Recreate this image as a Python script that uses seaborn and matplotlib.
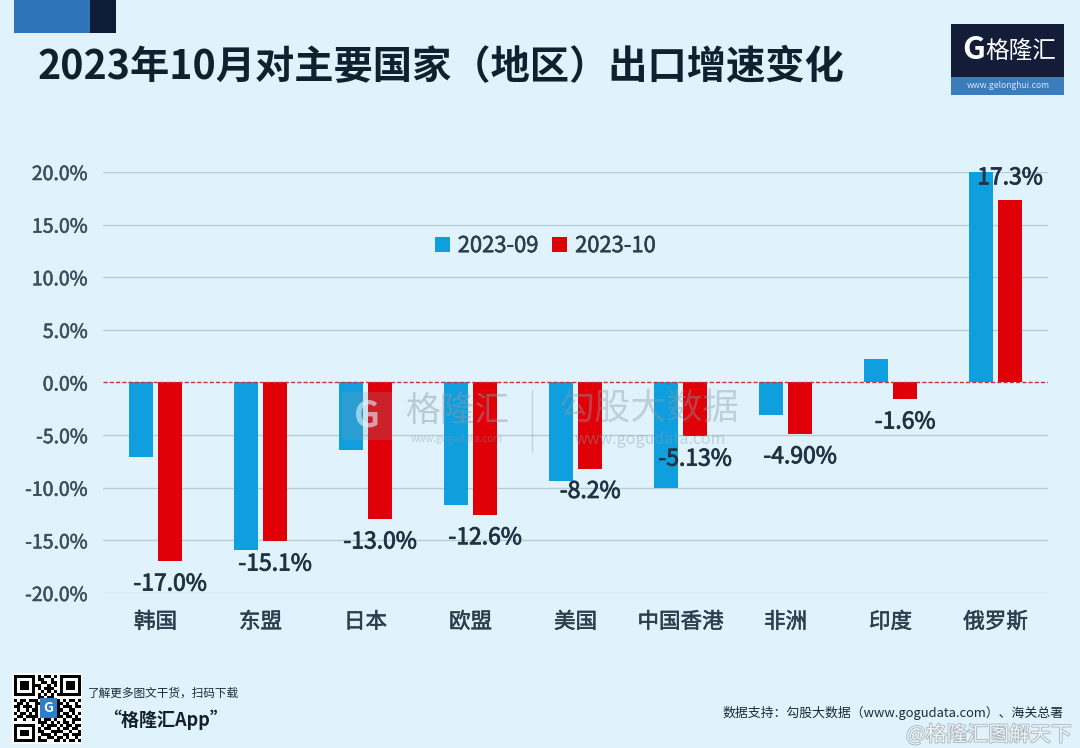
# 2023年10月 主要国家（地区）出口增速
import matplotlib
matplotlib.use('Agg')
import matplotlib.pyplot as plt
from matplotlib.lines import Line2D
from matplotlib.patches import Rectangle
import matplotlib.patheffects as pe
import numpy as np
import pandas as pd
import seaborn as sns

regions = ['韩国', '东盟', '日本', '欧盟', '美国', '中国香港', '非洲', '印度', '俄罗斯']
growth_09 = [-7.1, -15.9, -6.4, -11.6, -9.4, -10.0, -3.1, 2.2, 20.0]
growth_10 = [-17.0, -15.1, -13.0, -12.6, -8.2, -5.13, -4.90, -1.6, 17.3]
labels_10 = ['-17.0%', '-15.1%', '-13.0%', '-12.6%', '-8.2%', '-5.13%', '-4.90%', '-1.6%', '17.3%']
y_ticks = [-20, -15, -10, -5, 0, 5, 10, 15, 20]
qr_rows = [
    '1111111010110101111111',
    '1000001011001001000001',
    '1011101001101101011101',
    '1011101110010101011101',
    '1011101010111001011101',
    '1000001001010101000001',
    '1111111010101011111111',
    '0000000011011000000000',
    '1011011100110110101101',
    '0110100111000011010010',
    '1101110100000010111011',
    '0100101100000011001100',
    '1011010100000010110101',
    '0110111101000111011010',
    '1001001010110100100111',
    '0000000011101010110100',
    '1111111001011101011011',
    '1000001010110010110110',
    '1011101011001111001001',
    '1011101001110100110111',
    '1000001010011011010010',
    '1111111011100110101101',
]

BG = '#e0f3fc'
W, H = 1080, 748

sns.set_theme(style='white')
plt.rcParams['font.family'] = ['Noto Sans CJK SC', 'DejaVu Sans']
plt.rcParams['axes.unicode_minus'] = False

fig = plt.figure(figsize=(W / 100, H / 100), dpi=100, facecolor=BG)


def fx(x):
    return x / W


def fy(y):
    return 1 - y / H


def box(x0, y0, x1, y1, color, alpha=1, zorder=1):
    fig.add_artist(Rectangle((fx(x0), fy(y1)), (x1 - x0) / W, (y1 - y0) / H,
                             transform=fig.transFigure, color=color, lw=0, alpha=alpha, zorder=zorder))


def thicken(text, width=0.5):
    # フォントのMediumが効かないので縁取りで太くする
    text.set_path_effects([pe.withStroke(linewidth=width, foreground=text.get_color())])


# 左上の飾り・ロゴ
box(14, 0, 90, 33, '#2f74b8')
box(90, 0, 116, 33, '#0f1c38')
box(951, 24, 1064, 77, '#131d38')
box(951, 77, 1064, 95, '#3a7cbc')
fig.text(fx(974), fy(50), 'G', color='white', fontsize=23, fontweight='bold', ha='center', va='center')
fig.text(fx(1021), fy(51), '格隆汇', color='white', fontsize=17, ha='center', va='center')
fig.text(fx(1008), fy(86), 'www.gelonghui.com', color='#d5e6f5', fontsize=6.2, ha='center', va='center')

fig.text(fx(38), fy(68), '2023年10月对主要国家（地区）出口增速变化', color='#10202f',
         fontsize=28.3, fontweight='bold', ha='left', va='center')

# メインのグラフ
ax = fig.add_axes([fx(103), fy(593), 945 / W, 421 / H], facecolor='none')
df = pd.DataFrame({
    'region': regions * 2,
    'growth': growth_09 + growth_10,
    'month': ['2023-09'] * len(regions) + ['2023-10'] * len(regions),
})
sns.barplot(data=df, x='region', y='growth', hue='month', ax=ax, width=0.552, gap=0.156,
            palette=['#0f9fde', '#e00008'], saturation=1, zorder=3, legend=True,
            linewidth=0, edgecolor='none')

ax.set_xlim(-0.5, 8.5)
ax.set_ylim(-20, 20)
ax.set_xlabel('')
ax.set_ylabel('')
ax.set_yticks(y_ticks)
ax.set_yticklabels([f'{v:.1f}%' for v in y_ticks], color='#3c4f5e', fontsize=14)
ax.set_xticks(range(len(regions)))
ax.set_xticklabels(regions, fontsize=15.5, color='#2d3f4e')
ax.tick_params(axis='x', length=0, pad=13)
ax.tick_params(axis='y', length=0, pad=11)
for t in ax.get_xticklabels() + ax.get_yticklabels():
    thicken(t, 0.4)
for s in ax.spines.values():
    s.set_visible(False)
for v in y_ticks:
    if v != 0:
        ax.axhline(v, color='#b4cdd9', lw=1, zorder=1)
ax.axhline(0, color='#c8303c', lw=1, ls=(0, (3, 1.5)), zorder=4)

for t in ax.bar_label(ax.containers[1], labels=labels_10, padding=8, fontsize=16.5, color='#1f3442', zorder=6):
    thicken(t, 0.6)

leg = ax.legend(loc='upper left', bbox_to_anchor=(0.351, 0.85), ncol=2, frameon=False, title=None,
                prop={'size': 15.8}, handlelength=0.7, handleheight=0.7,
                handletextpad=0.35, columnspacing=0.6, labelcolor='#2d3f4e', borderpad=0, borderaxespad=0)
for t in leg.get_texts():
    thicken(t, 0.4)

# 透かし
mark = '#8c9aa6'
box(342, 392, 392, 440, mark, alpha=0.22, zorder=5)
fig.text(fx(367), fy(416), 'G', color=BG, alpha=0.6, fontsize=26, fontweight='bold', ha='center', va='center', zorder=5)
fig.text(fx(457), fy(412), '格隆汇', color=mark, alpha=0.45, fontsize=25, ha='center', va='center', zorder=5)
fig.text(fx(457), fy(439), 'www.gogudata.com', color=mark, alpha=0.4, fontsize=7, ha='center', va='center', zorder=5)
fig.add_artist(Line2D([fx(532), fx(532)], [fy(390), fy(452)], color=mark, alpha=0.35, lw=1, zorder=5))
fig.text(fx(649), fy(409), '勾股大数据', color=mark, alpha=0.4, fontsize=26, ha='center', va='center', zorder=5)
fig.text(fx(650), fy(439), 'www.gogudata.com', color=mark, alpha=0.4, fontsize=11.5, ha='center', va='center', zorder=5)

# 左下のQRコード
box(12, 673, 82, 744, 'white')
qr_ax = fig.add_axes([fx(14), fy(742), 67 / W, 67 / H], zorder=2)
qr_ax.imshow(np.array([[int(c) for c in r] for r in qr_rows]), cmap='gray_r', interpolation='nearest', aspect='auto')
qr_ax.axis('off')
box(40, 698, 57, 718, '#2f7fc8', zorder=3)
fig.text(fx(48.5), fy(708), 'G', color='white', fontsize=10, fontweight='bold', ha='center', va='center', zorder=6)

fig.text(fx(88), fy(693), '了解更多图文干货，扫码下载', color='#1b2a38', fontsize=8.4, ha='left', va='center')
fig.text(fx(103), fy(720), '“格隆汇App”', color='#14202c', fontsize=13, fontweight='bold', ha='left', va='center')
fig.text(fx(722), fy(713), '数据支持：勾股大数据（www.gogudata.com）、海关总署', color='#1b2a38',
         fontsize=9.3, ha='left', va='center')
wb = fig.text(fx(1072), fy(735), '@格隆汇图解天下', color='white', alpha=0.85, fontsize=15, ha='right', va='center', zorder=7)
wb.set_path_effects([pe.withStroke(linewidth=1.2, foreground='#9aa8b2')])

fig.savefig('out.png', dpi=100, facecolor=BG)
